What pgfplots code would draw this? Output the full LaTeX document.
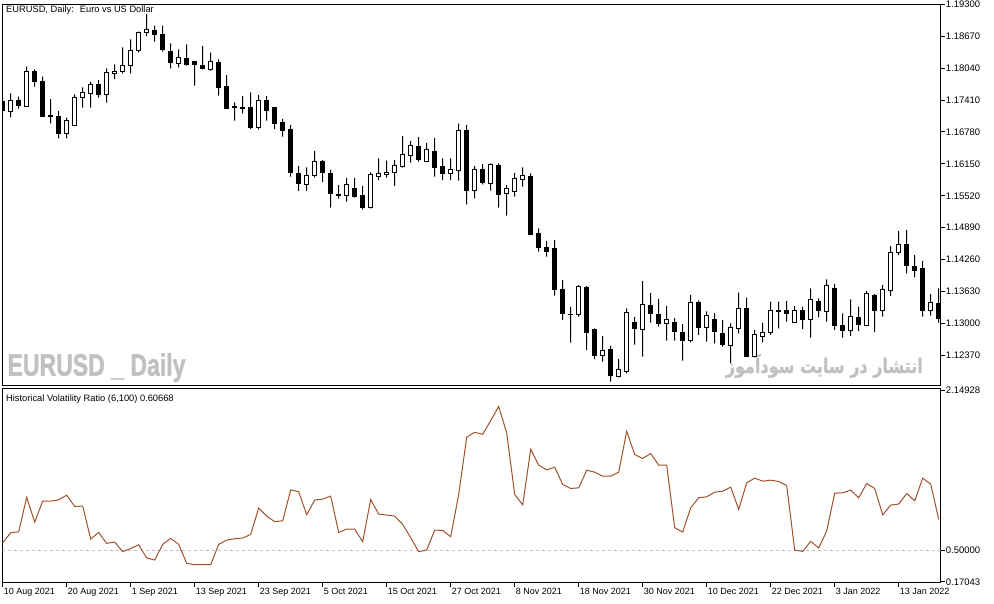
\documentclass[border=0pt]{standalone}
\usepackage{pgfplots}
\pgfplotsset{compat=1.18}
\usepackage{pgfplotstable}
\usepackage{graphicx}
\usepackage{fontspec}
\setmainfont{Liberation Sans}
\newfontfamily\wmfont[BoldFeatures={FakeBold=1.5}]{Liberation Sans}
\newfontfamily\arabicfont[Script=Arabic, BoldFeatures={FakeBold=1.2}]{DejaVu Sans}
\TeXXeTstate=1
\definecolor{hvline}{RGB}{160,82,45}
\definecolor{wm}{RGB}{192,192,192}
\definecolor{dashc}{RGB}{192,192,192}

\pgfplotstableread{
k o h l c
0 1.17377 1.17450 1.17154 1.17199
1 1.17193 1.17543 1.17069 1.17391
2 1.17397 1.17476 1.17239 1.17298
3 1.17292 1.18068 1.17278 1.17983
4 1.17969 1.18017 1.17673 1.17772
5 1.17766 1.17871 1.17075 1.17081
6 1.17114 1.17430 1.16951 1.17081
7 1.17089 1.17193 1.16654 1.16753
8 1.16753 1.17061 1.16654 1.17010
9 1.16903 1.17523 1.16895 1.17464
10 1.17464 1.17661 1.17259 1.17563
11 1.17543 1.17772 1.17259 1.17721
12 1.17721 1.17806 1.17456 1.17523
13 1.17523 1.18037 1.17357 1.17958
14 1.17938 1.18116 1.17825 1.17983
15 1.17983 1.18451 1.17938 1.18096
16 1.18082 1.18609 1.17938 1.18384
17 1.18384 1.18759 1.18352 1.18747
18 1.18747 1.19109 1.18674 1.18793
19 1.18773 1.18878 1.18562 1.18708
20 1.18694 1.18878 1.18364 1.18398
21 1.18364 1.18530 1.18037 1.18155
22 1.18135 1.18412 1.18056 1.18254
23 1.18234 1.18510 1.18088 1.18116
24 1.18161 1.18181 1.17693 1.18121
25 1.18096 1.18477 1.18017 1.18037
26 1.18017 1.18345 1.17989 1.18175
27 1.18155 1.18214 1.17496 1.17654
28 1.17687 1.17904 1.17240 1.17247
29 1.17278 1.17365 1.17002 1.17259
30 1.17267 1.17490 1.17148 1.17247
31 1.17253 1.17563 1.16838 1.16864
32 1.16864 1.17509 1.16832 1.17391
33 1.17391 1.17490 1.17002 1.17199
34 1.17267 1.17267 1.16838 1.16951
35 1.16957 1.17036 1.16686 1.16818
36 1.16838 1.16917 1.15896 1.15975
37 1.15969 1.16108 1.15614 1.15758
38 1.15746 1.16082 1.15614 1.15924
39 1.15916 1.16404 1.15884 1.16206
40 1.16187 1.16226 1.15792 1.15975
41 1.15969 1.16029 1.15284 1.15561
42 1.15549 1.15732 1.15462 1.15529
43 1.15529 1.15871 1.15403 1.15746
44 1.15673 1.15871 1.15482 1.15515
45 1.15535 1.15713 1.15253 1.15284
46 1.15284 1.15983 1.15272 1.15944
47 1.15896 1.16260 1.15831 1.15963
48 1.15936 1.16212 1.15877 1.15989
49 1.15975 1.16226 1.15713 1.16108
50 1.16088 1.16700 1.16074 1.16344
51 1.16319 1.16601 1.16173 1.16516
52 1.16483 1.16680 1.16192 1.16232
53 1.16192 1.16562 1.16185 1.16443
54 1.16384 1.16660 1.15896 1.16074
55 1.16088 1.16260 1.15831 1.15956
56 1.15963 1.16260 1.15831 1.16029
57 1.16015 1.16943 1.15817 1.16818
58 1.16799 1.16917 1.15351 1.15620
59 1.15628 1.16108 1.15470 1.16048
60 1.16042 1.16147 1.15746 1.15782
61 1.15766 1.16161 1.15620 1.16147
62 1.16127 1.16161 1.15284 1.15549
63 1.15555 1.15732 1.15126 1.15667
64 1.15600 1.15969 1.15501 1.15865
65 1.15845 1.16082 1.15699 1.15924
66 1.15910 1.15963 1.14745 1.14765
67 1.14779 1.14877 1.14415 1.14502
68 1.14489 1.14627 1.14317 1.14415
69 1.14469 1.14646 1.13547 1.13665
70 1.13679 1.13857 1.13067 1.13199
71 1.13172 1.13324 1.12619 1.13185
72 1.13180 1.13758 1.13132 1.13719
73 1.13699 1.13738 1.12475 1.12816
74 1.12889 1.12903 1.12297 1.12362
75 1.12370 1.12751 1.12244 1.12469
76 1.12475 1.12554 1.11849 1.11967
77 1.11961 1.12297 1.11936 1.12080
78 1.12054 1.13298 1.12015 1.13219
79 1.13008 1.13126 1.12579 1.12895
80 1.12883 1.13837 1.12342 1.13377
81 1.13357 1.13600 1.13014 1.13199
82 1.13185 1.13482 1.12935 1.13002
83 1.12994 1.13343 1.12658 1.13081
84 1.13008 1.13106 1.12658 1.12836
85 1.12824 1.12988 1.12263 1.12658
86 1.12658 1.13561 1.12627 1.13416
87 1.13416 1.13456 1.12771 1.12915
88 1.12915 1.13239 1.12639 1.13160
89 1.13081 1.13205 1.12607 1.12836
90 1.12804 1.13067 1.12540 1.12579
91 1.12560 1.13002 1.12212 1.12923
92 1.12903 1.13606 1.12804 1.13298
93 1.13298 1.13507 1.12342 1.12356
94 1.12342 1.12870 1.12331 1.12771
95 1.12737 1.13014 1.12627 1.12824
96 1.12824 1.13428 1.12771 1.13264
97 1.13239 1.13428 1.12903 1.13264
98 1.13264 1.13442 1.13033 1.13199
99 1.13021 1.13343 1.13015 1.13264
100 1.13264 1.13329 1.12889 1.13081
101 1.13081 1.13693 1.12717 1.13476
102 1.13442 1.13495 1.13120 1.13251
103 1.13239 1.13871 1.13033 1.13744
104 1.13693 1.13778 1.12870 1.12954
105 1.12962 1.13199 1.12717 1.12864
106 1.12850 1.13476 1.12751 1.13132
107 1.13120 1.13329 1.12850 1.12982
108 1.12954 1.13640 1.12945 1.13594
109 1.13555 1.13580 1.12830 1.13251
110 1.13245 1.13758 1.13132 1.13665
111 1.13645 1.14528 1.13541 1.14404
112 1.14396 1.14824 1.14350 1.14548
113 1.14548 1.14844 1.13989 1.14139
114 1.14127 1.14350 1.13910 1.14054
115 1.14074 1.14232 1.13132 1.13251
116 1.13264 1.13580 1.13152 1.13416
117 1.13397 1.13693 1.13014 1.13101
}\candles

\pgfplotstableread{
k v
0 0.576
1 0.679
2 0.689
3 1.047
4 0.789
5 1.006
6 1.006
7 1.020
8 1.068
9 0.951
10 0.955
11 0.614
12 0.682
13 0.569
14 0.583
15 0.483
16 0.517
17 0.555
18 0.418
19 0.397
20 0.559
21 0.621
22 0.559
23 0.362
24 0.348
25 0.348
26 0.348
27 0.559
28 0.603
29 0.617
30 0.624
31 0.662
32 0.934
33 0.851
34 0.793
35 0.803
36 1.123
37 1.103
38 0.865
39 1.017
40 1.027
41 1.058
42 0.682
43 0.717
44 0.717
45 0.586
46 1.023
47 0.872
48 0.862
49 0.851
50 0.765
51 0.627
52 0.483
53 0.500
54 0.707
55 0.703
56 0.638
57 1.075
58 1.667
59 1.719
60 1.698
61 1.839
62 1.987
63 1.712
64 1.075
65 0.968
66 1.543
67 1.378
68 1.330
69 1.357
70 1.178
71 1.137
72 1.144
73 1.326
74 1.306
75 1.264
76 1.264
77 1.306
78 1.729
79 1.488
80 1.447
81 1.499
82 1.378
83 1.378
84 0.731
85 0.686
86 0.937
87 1.041
88 1.051
89 1.099
90 1.109
91 1.151
92 0.920
93 1.196
94 1.244
95 1.213
96 1.223
97 1.209
98 1.168
99 0.500
100 0.486
101 0.590
102 0.521
103 0.696
104 1.089
105 1.092
106 1.120
107 1.041
108 1.189
109 1.137
110 0.865
111 0.965
112 0.976
113 1.085
114 1.010
115 1.244
116 1.182
117 0.817
}\hvtable

\pgfplotsset{
  panel/.style={scale only axis, width=938.4pt, xmin=-0.05, xmax=117.25, anchor=south west},
  toppanel/.style={panel, at={(2.3pt,217.3pt)}, height=381.4pt, ymin=1.1177, ymax=1.193},
  frame/.style={axis line style={black, line width=1pt},
    tick style={black, line width=1pt}, major tick length=4pt, tick align=outside,
    ytick pos=right, yticklabel pos=right,
    yticklabel style={/pgf/number format/.cd, fixed, fixed zerofill, precision=5, assume math mode=true},
    ticklabel style={font=\fontsize{9.5}{11}\selectfont, inner sep=1pt}},
}

\begin{document}
\begin{tikzpicture}[x=1pt,y=1pt]
\path[use as bounding box] (0,0) rectangle (994,603);

% watermarks (behind the candles)
\node[anchor=base west, inner sep=0, text=wm] at (7.3,227.3) {\resizebox{178pt}{\height}{\wmfont\bfseries\fontsize{31}{31}\selectfont EURUSD \_ Daily}};
\node[anchor=base east, inner sep=0, text=wm] at (923,230) {\resizebox{197pt}{\height}{\arabicfont\bfseries\fontsize{20}{20}\selectfont\beginR انتشار در سایت سودآموز\endR}};

% wicks
\begin{axis}[toppanel, hide axis, ybar stacked, bar width=1pt]
\addplot[draw=none, fill=none] table[x=k, y=l]{\candles};
\addplot[draw=none, fill=black] table[x=k, y expr=\thisrow{h}-\thisrow{l}]{\candles};
\end{axis}

% bodies
\begin{axis}[toppanel, hide axis, ybar stacked, bar width=4pt]
\addplot[draw=none, fill=none] table[x=k, y expr={min(\thisrow{o},\thisrow{c})}]{\candles};
\addplot[draw=black, fill=white, line width=1pt] table[x=k, y expr={max(\thisrow{c}-\thisrow{o},0)}]{\candles};
\addplot[draw=black, fill=black, line width=1pt] table[x=k, y expr={max(\thisrow{o}-\thisrow{c},0)}]{\candles};
\end{axis}

% frame of price panel
\begin{axis}[toppanel, frame, xtick=\empty,
  ytick={1.12370,1.13000,1.13630,1.14260,1.14890,1.15520,1.16150,1.16780,1.17410,1.18040,1.18670,1.19300}]
\end{axis}

% indicator panel
\begin{axis}[panel, at={(2.3pt,20.3pt)}, height=194.4pt, ymin=0.162, ymax=2.174, frame,
  ytick={0.17043,0.5,2.14928},
  xtick={0,8,...,112}, xtick pos=bottom,
  xticklabels={10 Aug 2021, 20 Aug 2021, 1 Sep 2021, 13 Sep 2021, 23 Sep 2021, 5 Oct 2021, 15 Oct 2021, 27 Oct 2021, 8 Nov 2021, 18 Nov 2021, 30 Nov 2021, 10 Dec 2021, 22 Dec 2021, 3 Jan 2022, 13 Jan 2022},
  xticklabel style={anchor=north west, font=\fontsize{9}{10}\selectfont, inner sep=1pt}]
\addplot[dashc, line width=1pt, dash pattern=on 3pt off 3pt, forget plot] coordinates {(-0.05,0.5) (117.25,0.5)};
\addplot[hvline, line width=1pt, mark=none] table[x=k, y=v]{\hvtable};
\end{axis}

% texts
\node[anchor=west, inner sep=0] at (6,593) {\fontsize{9.3}{11}\selectfont EURUSD, Daily:~ Euro vs US Dollar};
\node[anchor=west, inner sep=0] at (6,204) {\fontsize{9.3}{11}\selectfont Historical Volatility Ratio (6,100) 0.60668};
\end{tikzpicture}
\end{document}
